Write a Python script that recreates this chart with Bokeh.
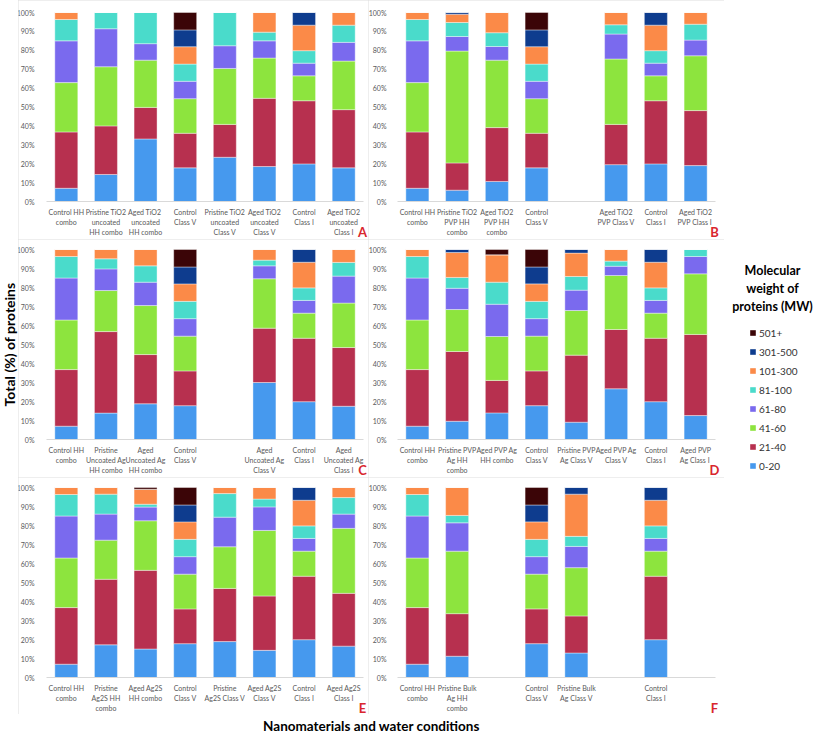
from bokeh.plotting import figure
from bokeh.models import ColumnDataSource, Range1d, FixedTicker, Label, Legend, LegendItem
from bokeh.layouts import row, column
from bokeh.embed import file_html
from bokeh.resources import INLINE

# ---------------- data ----------------
classes = ["0-20", "21-40", "41-60", "61-80", "81-100", "101-300", "301-500", "501+"]
colors = ["#4699EE", "#B7304F", "#8DE43E", "#7A6AEE", "#4ADBCB", "#FB8A48", "#0E3C8E", "#3B0507"]

# percentage of proteins per MW class (0-20 ... 501+), one list per bar
control_hh = [7.0, 29.8, 26.1, 22.1, 11.3, 3.7, 0, 0]
control_v = [17.8, 18.3, 18.3, 9.2, 9.1, 9.2, 8.9, 9.2]
control_i = [19.9, 33.4, 13.2, 6.7, 6.6, 13.5, 6.7, 0]

labels_a = ["Control HH\ncombo", "Pristine TiO2\nuncoated\nHH combo", "Aged  TiO2\nuncoated\nHH combo",
            "Control\nClass V", "Pristine TiO2\nuncoated\nClass V", "Aged TiO2\nuncoated\nClass V",
            "Control\nClass I", "Aged TiO2\nuncoated\nClass I"]
values_a = [control_hh,
            [14.3, 25.7, 31.3, 20.1, 8.6, 0, 0, 0],
            [33.1, 16.7, 25.0, 8.7, 16.5, 0, 0, 0],
            control_v,
            [23.4, 17.4, 29.6, 12.0, 17.6, 0, 0, 0],
            [18.5, 36.1, 21.3, 9.1, 4.6, 10.4, 0, 0],
            control_i,
            [17.8, 30.8, 25.7, 9.9, 9.1, 6.7, 0, 0]]

labels_b = ["Control HH\ncombo", "Pristine TiO2\nPVP HH\ncombo", "Aged TiO2\nPVP HH\ncombo",
            "Control\nClass V", "", "Aged TiO2\nPVP Class V", "Control\nClass I", "Aged TiO2\nPVP  Class I"]
values_b = [control_hh,
            [6.0, 14.4, 59.2, 7.7, 7.4, 4.4, 0.9, 0],
            [10.6, 28.5, 35.7, 7.2, 7.3, 10.7, 0, 0],
            control_v,
            None,
            [19.5, 21.3, 34.6, 13.2, 4.9, 6.5, 0, 0],
            control_i,
            [19.0, 29.1, 29.0, 8.3, 8.4, 6.2, 0, 0]]

labels_c = ["Control HH\ncombo", "Pristine\nUncoated Ag\nHH combo", "Aged\nUncoated Ag\nHH combo",
            "Control\nClass V", "", "Aged\nUncoated Ag\nClass V", "Control\nClass I", "Aged\nUncoated Ag\nClass I"]
values_c = [control_hh,
            [13.9, 42.9, 21.6, 11.4, 5.3, 4.9, 0, 0],
            [18.8, 25.9, 25.8, 12.3, 8.6, 8.6, 0, 0],
            control_v,
            None,
            [30.0, 28.6, 26.0, 6.8, 3.0, 5.6, 0, 0],
            control_i,
            [17.5, 30.9, 23.4, 14.2, 7.2, 6.8, 0, 0]]

labels_d = ["Control HH\ncombo", "Pristine PVP\nAg HH\ncombo", "Aged PVP Ag\nHH combo",
            "Control\nClass V", "Pristine PVP\nAg Class V", "Aged PVP Ag\nClass V",
            "Control\nClass I", "Aged PVP\nAg  Class I"]
values_d = [control_hh,
            [9.6, 36.7, 22.1, 11.2, 5.7, 13.1, 1.6, 0],
            [14.0, 17.1, 23.1, 17.0, 11.6, 14.4, 0, 2.8],
            control_v,
            [9.1, 35.3, 23.5, 10.7, 7.2, 12.3, 1.9, 0],
            [26.7, 31.2, 28.4, 4.9, 2.7, 6.1, 0, 0],
            control_i,
            [12.6, 42.7, 31.9, 9.1, 3.7, 0, 0, 0]]

labels_e = ["Control HH\ncombo", "Pristine\nAg2S HH\ncombo", "Aged Ag2S\nHH combo",
            "Control\nClass V", "Pristine\nAg2S Class V", "Aged Ag2S\nClass V",
            "Control\nClass I", "Aged Ag2S\nClass I"]
values_e = [control_hh,
            [17.2, 34.5, 20.6, 13.7, 10.5, 3.5, 0, 0],
            [15.0, 41.4, 26.1, 7.2, 1.5, 7.9, 0, 0.9],
            control_v,
            [18.9, 28.0, 21.9, 15.6, 12.4, 3.2, 0, 0],
            [14.3, 28.6, 34.5, 12.4, 4.1, 6.1, 0, 0],
            control_i,
            [16.5, 27.8, 34.2, 7.5, 8.7, 5.3, 0, 0]]

labels_f = ["Control HH\ncombo", "Pristine Bulk\nAg HH\ncombo", "", "Control\nClass V",
            "Pristine Bulk\nAg Class V", "", "Control\nClass I", ""]
values_f = [control_hh,
            [11.2, 22.4, 32.9, 14.9, 3.9, 14.7, 0, 0],
            None,
            control_v,
            [12.9, 19.5, 25.4, 11.2, 5.3, 22.2, 3.5, 0],
            None,
            control_i,
            None]

y_ticks = [0, 10, 20, 30, 40, 50, 60, 70, 80, 90, 100]

# ---------------- styling / layout ----------------
FONT = "Lato"
TICK_COLOR = "#595959"
LETTER_COLOR = "#D9262E"
keys = ["c%d" % i for i in range(len(classes))]
BORDER = {"outline": "1px solid #dcdcdc", "outline-offset": "-1px"}


def make_source(values):
    data = {"x": []}
    for k in keys:
        data[k] = []
    for i, bar in enumerate(values):
        if bar is None:
            continue
        data["x"].append(i)
        for k, v in zip(keys, bar):
            data[k].append(v)
    return ColumnDataSource(data)


def make_panel(values, labels, letter, fig_x, fig_y, px_lo, px_hi, py_top, py_bot, ystand):
    """fig_x/fig_y: (start, end) of the figure in page pixels; the category
    span -0.5..7.5 sits at px_lo..px_hi and 100%..0% at py_top..py_bot."""
    w = fig_x[1] - fig_x[0]
    h = fig_y[1] - fig_y[0]
    ppx = (px_hi - px_lo) / 8.0
    ppy = (py_bot - py_top) / 100.0
    xr = Range1d(-0.5 - (px_lo - fig_x[0]) / ppx, 7.5 + (fig_x[1] - px_hi) / ppx)
    yr = Range1d(-(fig_y[1] - py_bot) / ppy, 100 + (py_top - fig_y[0]) / ppy)
    src = make_source(values)
    p = figure(width=w, height=h, x_range=xr, y_range=yr,
               output_backend="svg", toolbar_location=None,
               min_border=0, styles=BORDER)
    p.vbar_stack(keys, x="x", width=0.58, source=src, fill_color=colors,
                 line_color="white", line_width=0.4)
    p.xgrid.visible = False
    p.ygrid.visible = False
    p.outline_line_color = None

    xa = p.xaxis[0]
    xa.fixed_location = 0
    xa.bounds = (-0.5, 7.5)
    xa.ticker = FixedTicker(ticks=list(range(8)))
    xa.major_label_overrides = {i: lab for i, lab in enumerate(labels)}
    xa.major_tick_line_color = None
    xa.minor_tick_line_color = None
    xa.axis_line_color = "#d9d9d9"
    xa.major_label_standoff = 0
    xa.major_label_text_font = FONT
    xa.major_label_text_font_size = "7px"
    xa.major_label_text_color = TICK_COLOR
    xa.major_label_text_line_height = 1.25

    ya = p.yaxis[0]
    ya.fixed_location = -0.5
    ya.bounds = (0, 100)
    ya.ticker = FixedTicker(ticks=y_ticks)
    ya.major_label_overrides = {v: "%d%%" % v for v in y_ticks}
    ya.major_tick_line_color = None
    ya.minor_tick_line_color = None
    ya.axis_line_color = None
    ya.major_label_standoff = ystand
    ya.major_label_text_font = FONT
    ya.major_label_text_font_size = "7px"
    ya.major_label_text_color = TICK_COLOR

    # panel letter, just below the right end of the axis
    p.add_layout(Label(x=px_hi - fig_x[0] - 1, y=fig_y[1] - (py_bot + 30), x_units="screen", y_units="screen",
                       text=letter, text_font=FONT, text_font_style="bold", text_font_size="13px",
                       text_color=LETTER_COLOR, text_align="center", text_baseline="middle"))
    return p, src


LEFT = (18, 368)
RIGHT = (368, 724)
ROW1 = (0, 239)
ROW2 = (239, 477)
ROW3 = (477, 714)

pa, src_a = make_panel(values_a, labels_a, "A", LEFT, ROW1, 46, 363, 12, 201, 6)
pb, _ = make_panel(values_b, labels_b, "B", RIGHT, ROW1, 397, 715, 12, 201, 5)
pc, _ = make_panel(values_c, labels_c, "C", LEFT, ROW2, 46, 363, 249, 439, 6)
pd, _ = make_panel(values_d, labels_d, "D", RIGHT, ROW2, 397, 715, 249, 439, 5)
pe, _ = make_panel(values_e, labels_e, "E", LEFT, ROW3, 46, 363, 487, 677, 6)
pf, _ = make_panel(values_f, labels_f, "F", RIGHT, ROW3, 397, 715, 487, 677, 5)

TOTAL_H = 733


def blank(w, h):
    q = figure(width=w, height=h, x_range=Range1d(0, 1), y_range=Range1d(0, 1),
               output_backend="svg", toolbar_location=None, x_axis_location=None,
               y_axis_location=None, min_border=0, outline_line_color=None)
    q.grid.visible = False
    return q


# y-axis title column
py = blank(18, TOTAL_H)
py.add_layout(Label(x=9, y=TOTAL_H - 344, x_units="screen", y_units="screen", text="Total (%) of proteins",
                    angle=1.5708, text_font=FONT, text_font_style="bold", text_font_size="14px",
                    text_color="black", text_align="center", text_baseline="middle"))

# x-axis title
pt = blank(706, TOTAL_H - 714)
pt.add_layout(Label(x=371 - 18, y=8, x_units="screen", y_units="screen",
                    text="Nanomaterials and water conditions", text_font=FONT,
                    text_font_style="bold", text_font_size="13.5px", text_color="black",
                    text_align="center", text_baseline="middle"))

# legend column
pl = blank(92, TOTAL_H)
hidden = pl.vbar_stack(keys, x="x", width=0.58, source=src_a, fill_color=colors,
                       line_color=None, visible=False)
items = [LegendItem(label=cls, renderers=[r]) for cls, r in zip(classes, hidden)][::-1]
leg = Legend(items=items, location=(25, TOTAL_H - 323 - 8 * 19), padding=0, margin=0, spacing=0,
             glyph_width=7, glyph_height=7, label_height=19, label_standoff=3,
             label_text_font=FONT, label_text_font_size="10px", label_text_color="#333333",
             border_line_color=None, background_fill_alpha=0, inactive_fill_alpha=0)
pl.add_layout(leg)
for txt, yy in [("Molecular", 270), ("weight of", 288), ("proteins (MW)", 306)]:
    pl.add_layout(Label(x=772 - 724, y=TOTAL_H - yy, x_units="screen", y_units="screen", text=txt,
                        text_font=FONT, text_font_style="bold", text_font_size="12.5px",
                        text_color="black", text_align="center", text_baseline="middle"))

layout = row(py, column(row(pa, pb), row(pc, pd), row(pe, pf), pt), pl)

open("out.html", "w").write(file_html(layout, INLINE))
